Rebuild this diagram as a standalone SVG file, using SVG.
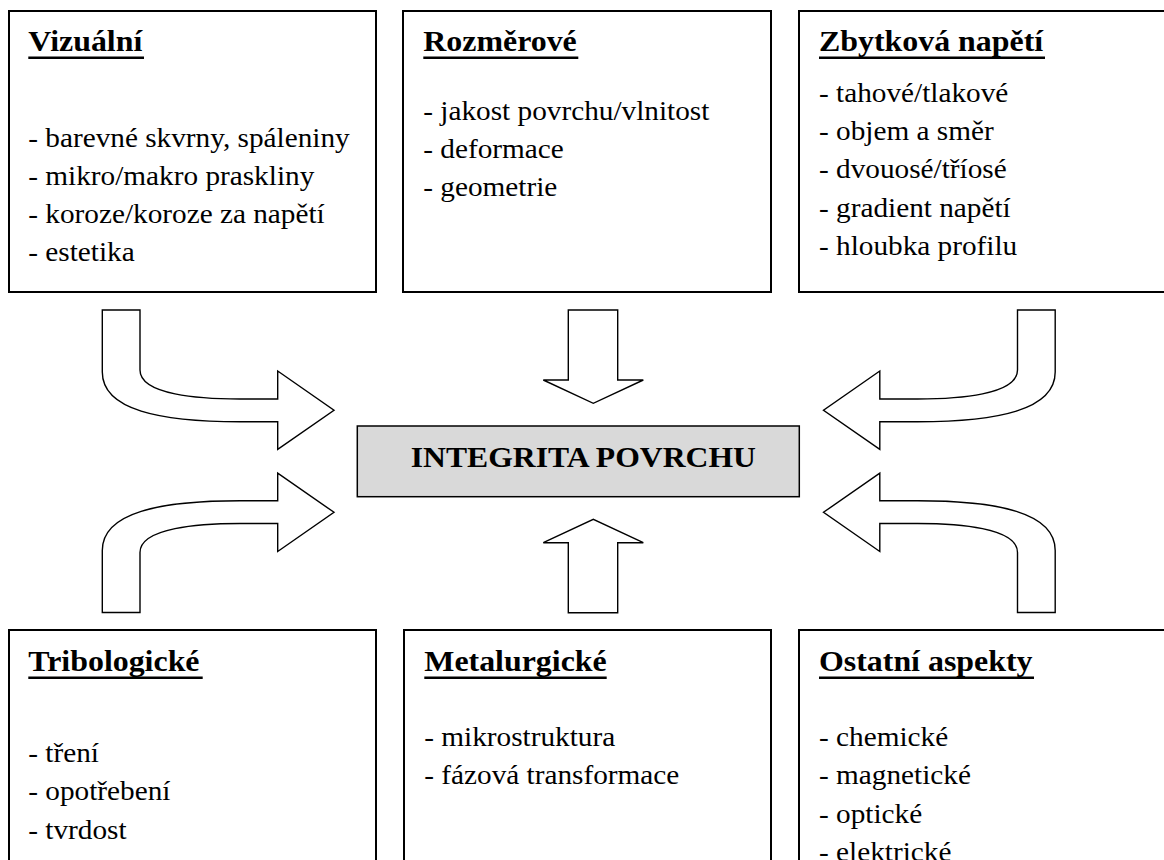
<svg xmlns="http://www.w3.org/2000/svg" width="1164" height="860" viewBox="0 0 1164 860">
<style>
.box{fill:#fff;stroke:#000;stroke-width:2}
.center{fill:#d9d9d9;stroke:#000;stroke-width:1.5}
.arr{fill:#fff;stroke:#000;stroke-width:1.4;stroke-linejoin:miter}
text{font-family:'Liberation Serif','Times New Roman','DejaVu Serif',serif;fill:#000}
.h{font-weight:bold;font-size:29px}
.b{font-size:26.6px}
.c{font-weight:bold;font-size:28.8px}
.ul{stroke:#000;stroke-width:2.4}
</style>
<rect width="1164" height="860" fill="#fff"/>
<defs>
<path id="curved" d="M102.3,310 L140,310 L140,370 C140,395 200,399 240,399 L277.7,399 L277.7,371 L334,410.2 L277.7,449.3 L277.7,421.7 L240,421.7 C160,421.7 102.3,410 102.3,372 Z"/>
</defs>

<g id="connectors">
<use href="#curved" class="arr"/>
<use href="#curved" class="arr" transform="matrix(1 0 0 -1 0 922.5)"/>
<use href="#curved" class="arr" transform="matrix(-1 0 0 1 1157.5 0)"/>
<use href="#curved" class="arr" transform="matrix(-1 0 0 -1 1157.5 922.5)"/>
<path class="arr" d="M568.3,310 L617.7,310 L617.7,380 L643.3,380 L593.3,403.3 L543.3,380 L568.3,380 Z"/>
<path class="arr" d="M568.3,612.7 L617.7,612.7 L617.7,542.7 L643.3,542.7 L593.3,519.3 L543.3,542.7 L568.3,542.7 Z"/>
</g>

<g id="integrita">
<rect class="center" x="357.3" y="426" width="442" height="70.7"/>
<text class="c" transform="matrix(1.1 0 0 1 410.7 466.7)">INTEGRITA POVRCHU</text>
</g>

<g id="vizualni">
<rect class="box" x="9" y="11" width="367" height="281"/>
<text class="h" transform="matrix(1.1 0 0 1 28.3 51)">Vizuální</text>
<line class="ul" x1="28.3" y1="57.7" x2="144" y2="57.7"/>
<text class="b" transform="matrix(1.1 0 0 1 28.3 146.7)">- barevné skvrny, spáleniny</text>
<text class="b" transform="matrix(1.1 0 0 1 28.3 185)">- mikro/makro praskliny</text>
<text class="b" transform="matrix(1.1 0 0 1 28.3 223.2)">- koroze/koroze za napětí</text>
<text class="b" transform="matrix(1.1 0 0 1 28.3 261.2)">- estetika</text>
</g>

<g id="rozmerove">
<rect class="box" x="403" y="11" width="368" height="281"/>
<text class="h" transform="matrix(1.1 0 0 1 423.3 51)">Rozměrové</text>
<line class="ul" x1="423.3" y1="57.7" x2="578.3" y2="57.7"/>
<text class="b" transform="matrix(1.1 0 0 1 423.3 119.5)">- jakost povrchu/vlnitost</text>
<text class="b" transform="matrix(1.1 0 0 1 423.3 157.8)">- deformace</text>
<text class="b" transform="matrix(1.1 0 0 1 423.3 196)">- geometrie</text>
</g>

<g id="zbytkova">
<rect class="box" x="799" y="11" width="400" height="281"/>
<text class="h" transform="matrix(1.1 0 0 1 819 51)">Zbytková napětí</text>
<line class="ul" x1="819" y1="57.7" x2="1045" y2="57.7"/>
<text class="b" transform="matrix(1.1 0 0 1 819 101.7)">- tahové/tlakové</text>
<text class="b" transform="matrix(1.1 0 0 1 819 140)">- objem a směr</text>
<text class="b" transform="matrix(1.1 0 0 1 819 178.3)">- dvouosé/tříosé</text>
<text class="b" transform="matrix(1.1 0 0 1 819 216.6)">- gradient napětí</text>
<text class="b" transform="matrix(1.1 0 0 1 819 255)">- hloubka profilu</text>
</g>

<g id="tribologicke">
<rect class="box" x="9" y="630" width="367" height="300"/>
<text class="h" transform="matrix(1.1 0 0 1 28.3 671)">Tribologické</text>
<line class="ul" x1="28.3" y1="677.7" x2="202.7" y2="677.7"/>
<text class="b" transform="matrix(1.1 0 0 1 28.3 761.5)">- tření</text>
<text class="b" transform="matrix(1.1 0 0 1 28.3 800.2)">- opotřebení</text>
<text class="b" transform="matrix(1.1 0 0 1 28.3 838.8)">- tvrdost</text>
</g>

<g id="metalurgicke">
<rect class="box" x="404" y="630" width="367" height="300"/>
<text class="h" transform="matrix(1.1 0 0 1 424.3 671)">Metalurgické</text>
<line class="ul" x1="424.3" y1="677.7" x2="606.7" y2="677.7"/>
<text class="b" transform="matrix(1.1 0 0 1 424.3 745.7)">- mikrostruktura</text>
<text class="b" transform="matrix(1.1 0 0 1 424.3 784)">- fázová transformace</text>
</g>

<g id="ostatni">
<rect class="box" x="799" y="630" width="400" height="300"/>
<text class="h" transform="matrix(1.1 0 0 1 819 671)">Ostatní aspekty</text>
<line class="ul" x1="819" y1="677.7" x2="1034" y2="677.7"/>
<text class="b" transform="matrix(1.1 0 0 1 819 745.7)">- chemické</text>
<text class="b" transform="matrix(1.1 0 0 1 819 784.2)">- magnetické</text>
<text class="b" transform="matrix(1.1 0 0 1 819 822.7)">- optické</text>
<text class="b" transform="matrix(1.1 0 0 1 819 861.2)">- elektrické</text>
</g>
</svg>
